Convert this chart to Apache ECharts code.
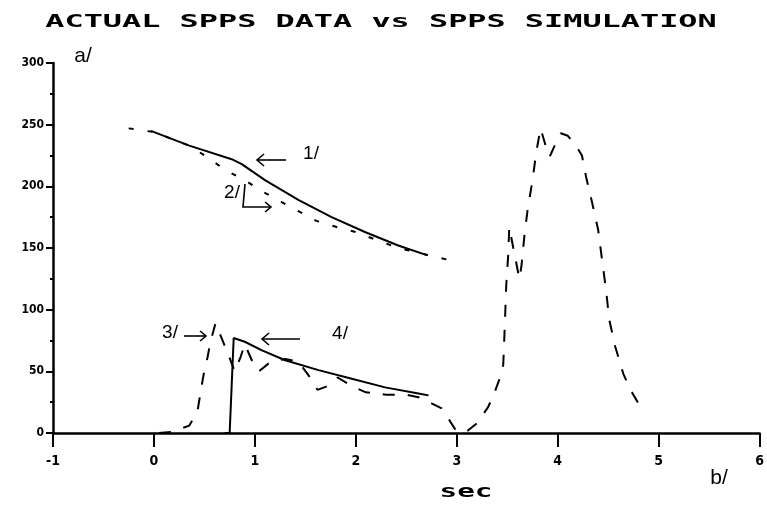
<!DOCTYPE html>
<html><head><meta charset="utf-8">
<script src="https://cdn.jsdelivr.net/npm/echarts@6/dist/echarts.min.js"></script>
<style>html,body{margin:0;padding:0;background:#fff}#c{width:767px;height:505px}</style>
</head><body><div id="c"></div>
<script>
// x tick labels (sec) and y tick labels
const xTicks = [-1, 0, 1, 2, 3, 4, 5, 6];
const yTicks = [0, 50, 100, 150, 200, 250, 300];

// 1/ simulation (solid, upper)
const sim1 = [[-0.03,245],[0.35,233],[0.77,222],[0.87,218],[1.10,205],[1.43,189],[1.76,175],[2.09,163],[2.42,152],[2.71,144]];
// 2/ actual data (short dashes, upper)
const act2 = [[-0.25,247],[0.0,244],[0.35,233],[0.54,223],[0.71,213],[0.9,205],[1.07,196],[1.27,187],[1.45,179],[1.61,172],[1.81,167],[2.0,163],[2.22,156],[2.42,150],[2.78,143],[2.99,139]];
// 3/ actual data (dashed, lower + hump)
const act3 = [[0.05,0],[0.18,1],[0.35,6],[0.43,17],[0.47,37],[0.5,51],[0.53,61],[0.56,74],[0.61,89],[0.74,63],[0.80,50],[0.86,62],[0.90,72],[0.98,57],[1.04,50],[1.16,58],[1.3,60],[1.43,58],[1.53,47],[1.62,35],[1.72,38],[1.82,45],[1.96,38],[2.1,33],[2.3,31],[2.5,31],[2.62,29],[2.75,24],[2.85,20],[2.93,10],[3.0,1],[3.11,2],[3.2,8],[3.31,21],[3.37,32],[3.42,43],[3.46,55],[3.47,75],[3.48,97],[3.49,120],[3.51,145],[3.52,167],[3.56,150],[3.62,125],[3.64,135],[3.67,160],[3.70,180],[3.75,205],[3.79,229],[3.83,247],[3.88,233],[3.92,224],[3.97,233],[4.03,243],[4.1,241],[4.18,233],[4.24,225],[4.28,208],[4.34,187],[4.4,165],[4.44,140],[4.48,115],[4.51,92],[4.57,70],[4.65,48],[4.72,35],[4.8,24]];
// 4/ simulation (solid, lower)
const sim4 = [[0.70,0],[0.75,0],[0.79,77],[0.9,74],[1.07,67],[1.3,59],[1.63,51],[1.96,44],[2.29,37],[2.62,32],[2.72,30.5]];

const chart = echarts.init(document.getElementById('c'), null, {renderer:'canvas'});
const black = '#000';
const lblFont = '"DejaVu Sans Condensed","Liberation Sans Narrow","DejaVu Sans",sans-serif';
const handFont = '"Liberation Sans","DejaVu Sans",sans-serif';
const plotFont = '"DejaVu Sans Mono",monospace';

function lineSeries(data, type, width) {
  return {type:'line', data:data, showSymbol:false, symbol:'none', animation:false,
    lineStyle:{color:black, width:width, type:type}, z:3};
}
function arrow(points) {
  return {type:'polyline', shape:{points:points}, style:{stroke:black, lineWidth:1.6, fill:null}};
}
function label(text, x, y, size) {
  return {type:'text', x:x, y:y, style:{text:text, font:(size||19)+'px '+handFont, fill:black,
    textAlign:'center', textVerticalAlign:'middle', align:'center', verticalAlign:'middle'}};
}

chart.setOption({
  backgroundColor:'#fff',
  animation:false,
  grid:{left:53, right:7, top:63, bottom:72, containLabel:false},
  xAxis:{type:'value', min:xTicks[0], max:xTicks[xTicks.length-1], interval:1,
    axisLine:{show:true, onZero:false, lineStyle:{color:black, width:2.5}},
    axisTick:{show:true, length:14, lineStyle:{color:black, width:2}},
    axisLabel:{color:black, fontFamily:lblFont, fontWeight:'bold', fontSize:14, margin:21,
      formatter:function(v){return xTicks.indexOf(v)>=0 ? String(v) : '';}},
    splitLine:{show:false}},
  yAxis:{type:'value', min:yTicks[0], max:yTicks[yTicks.length-1], interval:50,
    axisLine:{show:true, onZero:false, lineStyle:{color:black, width:2.5}},
    axisTick:{show:true, length:7, lineStyle:{color:black, width:2}},
    minorTick:{show:true, splitNumber:2, length:3, lineStyle:{color:black, width:2}},
    axisLabel:{color:black, fontFamily:lblFont, fontWeight:'bold', fontSize:12, margin:9,
      formatter:function(v){return yTicks.indexOf(v)>=0 ? String(v) : '';}},
    splitLine:{show:false}},
  series:[
    lineSeries(sim1, 'solid', 2),
    lineSeries(act2, [5,14], 2),
    lineSeries(act3, [12,13], 2),
    lineSeries(sim4, 'solid', 2)
  ],
  graphic:[
    {type:'text', x:381, y:22, scaleX:1.77, style:{text:'ACTUAL SPPS DATA vs SPPS SIMULATION',
      font:'bold 18px '+plotFont, fill:black, textAlign:'center', textVerticalAlign:'middle', align:'center', verticalAlign:'middle'}},
    {type:'text', x:466, y:492, scaleX:1.63, style:{text:'sec',
      font:'bold 18px '+plotFont, fill:black, textAlign:'center', textVerticalAlign:'middle', align:'center', verticalAlign:'middle'}},
    label('a/', 83, 56, 21),
    label('b/', 719, 478, 21),
    label('1/', 311, 154),
    arrow([[286,160],[258,160]]), arrow([[264,154],[257,160],[264,166]]),
    label('2/', 232, 193),
    arrow([[245,184],[243,207],[271,207]]), arrow([[265,202],[271,207],[265,212]]),
    label('3/', 170, 333),
    arrow([[184,336],[206,336]]), arrow([[200,331],[206,336],[200,341]]),
    label('4/', 340, 334),
    arrow([[300,339],[263,339]]), arrow([[269,333],[262,339],[269,345]])
  ]
});
</script></body></html>
